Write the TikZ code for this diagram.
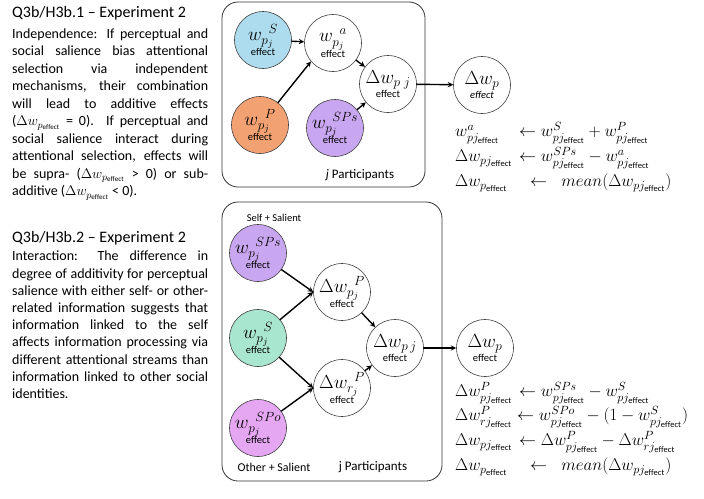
\RequirePackage{fix-cm}
\documentclass[tikz,border=0pt]{standalone}
\usepackage{fontspec}
\setmainfont{Carlito}
\usepackage{amsmath}
\usetikzlibrary{arrows}
\definecolor{colS}{HTML}{ADDCEE}
\definecolor{colP}{HTML}{F2A173}
\definecolor{colSPs}{HTML}{C9A7F0}
\definecolor{colSg}{HTML}{A9E6CF}
\definecolor{colSPo}{HTML}{E5A6F2}
\tikzset{
circ/.style={circle, draw=black!75, line width=0.6pt, minimum size=57pt, inner sep=0pt, align=center, font=\fontsize{19}{15}\selectfont},
plate/.style={draw=black!80, line width=0.8pt, rounded corners=16pt},
arr/.style={->, line width=1.4pt},
para/.style={anchor=north west, inner sep=0pt, text width=196pt, align=justify, font=\fontsize{14}{17.2}\selectfont},
head/.style={anchor=west, inner sep=0pt, font=\fontsize{16}{16}\selectfont},
eqn/.style={anchor=west, inner sep=0pt, font=\fontsize{17}{17}\selectfont},
}
\newcommand{\eff}{{\fontsize{10.5}{10.5}\selectfont effect}}
\newcommand{\ef}{\mathrm{effect}}
\newcommand{\eqrow}[3][64pt]{\makebox[#1][l]{$#2$}$\leftarrow #3$}
\begin{document}
\begin{tikzpicture}[x=1pt, y=-1pt, line join=round, line cap=round, >=stealth]
\useasboundingbox (0,0) rectangle (704,498);
%Văn bản bên trái
\node[head] (title1) at (12,13) {Q3b/H3b.1 -- Experiment 2};
\node[para, font=\fontsize{14}{17.5}\selectfont] (text1) at (12,28.5)
{\lineskiplimit=-20pt Independence: If perceptual and\linebreak social salience bias attentional\linebreak selection via independent\linebreak mechanisms, their combination\linebreak will lead to additive effects\linebreak ($\Delta w_{p_{\ef}}$ = 0). If perceptual and\linebreak social salience interact during\linebreak attentional selection, effects will\linebreak be supra- ($\Delta w_{p_{\ef}}$ > 0) or sub-\linebreak additive ($\Delta w_{p_{\ef}}$ < 0).};
\node[head] (title2) at (12,238) {Q3b/H3b.2 -- Experiment 2};
\node[para] (text2) at (12,251)
{Interaction: The difference in\linebreak degree of additivity for perceptual\linebreak salience with either self- or other-\linebreak related information suggests that\linebreak information linked to the self\linebreak affects information processing via\linebreak different attentional streams than\linebreak information linked to other social\linebreak identities.};
%Khung trên
\draw[plate] (222,2) rectangle (425,187);
\node[circ, fill=colS] (wS) at (263,40) {$w_{p_j}^{\hphantom{p}S}$\\[-1pt]\eff};
\node[circ] (wa) at (333,43) {$w_{p_j}^{\hphantom{p}a}$\\[-1pt]\eff};
\node[circ, fill=colP] (wP) at (260,125) {$w_{p_j}^{\hphantom{p}P}$\\[-1pt]\eff};
\node[circ, fill=colSPs] (wSPs) at (335,128) {$w_{p_j}^{\hphantom{p}SPs}$\\[-1pt]\eff};
\node[circ] (dwpj) at (388,84) {$\Delta w_{p\;j}$\\[-1pt]\eff};
\node[circ] (dwp) at (482,85) {$\Delta w_{p}$\\[-1pt]{\fontsize{10.5}{10.5}\selectfont\itshape effect}};
\node[font=\fontsize{13}{13}\selectfont] (part1) at (360,175) {\textit{j} Participants};
\draw[arr] (wS)--(wa);
\draw[arr] (wP)--(wa.220);
\draw[arr] (wa)--(dwpj);
\draw[arr] (wSPs)--(dwpj);
\draw[arr] (dwpj)--(dwp);
\node[eqn] (eqt1) at (455,133) {\eqrow{w^{a}_{pj_{\ef}}}{w^{S}_{pj_{\ef}} + w^{P}_{pj_{\ef}}}};
\node[eqn] (eqt2) at (455,158) {\eqrow{\Delta w_{pj_{\ef}}}{w^{SPs}_{pj_{\ef}} - w^{a}_{pj_{\ef}}}};
\node[eqn] (eqt3) at (455,183) {\eqrow[75pt]{\Delta w_{p_{\ef}}}{\;\; mean(\Delta w_{pj_{\ef}})}};
%Khung dưới
\draw[plate] (222,202) rectangle (442,481);
\node[font=\fontsize{10.5}{10.5}\selectfont] (self) at (274,218) {Self + Salient};
\node[circ, fill=colSPs] (bSPs) at (258,253) {$w_{p_j}^{\hphantom{p}SPs}$\\[-1pt]\eff};
\node[circ, fill=colSg] (bS) at (258,338) {$w_{p_j}^{\hphantom{p}S}$\\[-1pt]\eff};
\node[circ, fill=colSPo] (bSPo) at (258,428) {$w_{p_j}^{\hphantom{p}SPo}$\\[-1pt]\eff};
\node[circ] (bdP) at (342,292) {$\Delta w_{p_j}^{\hphantom{p}P}$\\[-1pt]\eff};
\node[circ] (bdR) at (342,388) {$\Delta w_{r_j}^{\hphantom{p}P}$\\[-1pt]\eff};
\node[circ] (bdwpj) at (395,348) {$\Delta w_{p\,j}$\\[-1pt]\eff};
\node[circ] (bdwp) at (485,348) {$\Delta w_{p}$\\[-1pt]\eff};
\node[font=\fontsize{12}{12}\selectfont] (other) at (274,467) {Other + Salient};
\node[font=\fontsize{13}{13}\selectfont] (part2) at (373,467) {j Participants};
\draw[arr] (bSPs)--(bdP.west);
\draw[arr] (bS)--(bdP.west);
\draw[arr] (bS)--(bdR.west);
\draw[arr] (bSPo)--(bdR.west);
\draw[arr] (bdP)--(bdwpj);
\draw[arr] (bdR)--(bdwpj);
\draw[arr] (bdwpj)--(bdwp);
\node[eqn] (eqb1) at (455,393) {\eqrow{\Delta w^{P}_{pj_{\ef}}}{w^{SPs}_{pj_{\ef}} - w^{S}_{pj_{\ef}}}};
\node[eqn] (eqb2) at (455,417) {\eqrow[62pt]{\Delta w^{P}_{rj_{\ef}}}{w^{SPo}_{pj_{\ef}} - (1 - w^{S}_{pj_{\ef}})}};
\node[eqn] (eqb3) at (455,442) {\eqrow{\Delta w_{pj_{\ef}}}{\Delta w^{P}_{pj_{\ef}} - \Delta w^{P}_{rj_{\ef}}}};
\node[eqn] (eqb4) at (455,467) {\eqrow[75pt]{\Delta w_{p_{\ef}}}{\;\; mean(\Delta w_{pj_{\ef}})}};
\end{tikzpicture}
\end{document}
